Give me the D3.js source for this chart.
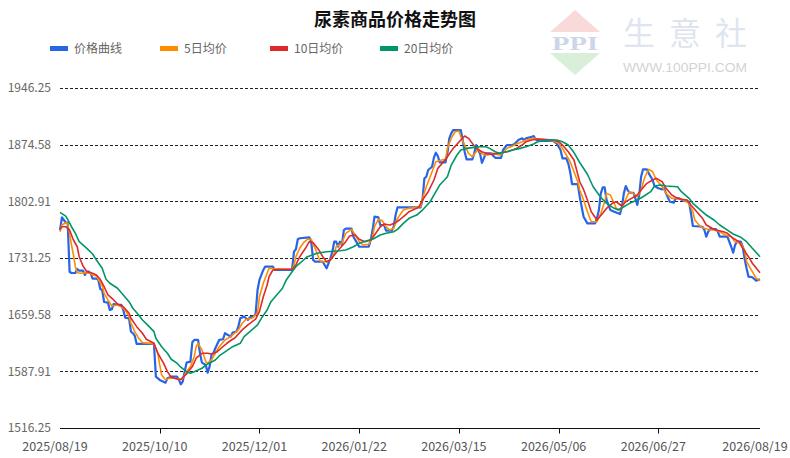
<!DOCTYPE html>
<html><head><meta charset="utf-8">
<script src="https://cdn.jsdelivr.net/npm/d3@7"></script>
<style>
body{margin:0;background:#fff;}
svg{display:block;font-family:"Noto Sans CJK SC","Noto Sans",sans-serif;}
</style>
</head><body>
<svg id="chart" width="790" height="458"></svg>
<script>
const chartTitle = "尿素商品价格走势图";
const startDate = "2025/08/19";
const endDate = "2026/08/19";
const xTickLabels = ["2025/08/19","2025/10/10","2025/12/01","2026/01/22","2026/03/15","2026/05/06","2026/06/27","2026/08/19"];
const yTickLabels = ["1516.25","1587.91","1659.58","1731.25","1802.91","1874.58","1946.25"];
const legendLabels = ["价格曲线","5日均价","10日均价","20日均价"];
const seriesColors = ["#2864e6","#ff8c00","#dd2a2a","#00966a"];

// [day offset from start, value]
const priceSeries = [[0,1766.6],[1,1782.7],[2,1779.3],[3,1775.9],[4,1775.9],[5,1713.9],[6,1712.3],[8,1712.3],[9,1717.4],[10,1715.2],[12,1715.2],[13,1709.8],[14,1713.9],[15,1713.9],[16,1711.9],[17,1705.1],[19,1705.1],[20,1703.5],[21,1692.1],[22,1690.8],[23,1675.6],[25,1674.8],[26,1665.5],[27,1666.4],[28,1673.1],[30,1671.9],[32,1671.9],[33,1665.5],[34,1655.8],[36,1655.0],[37,1638.1],[38,1636.1],[39,1632.7],[40,1622.6],[49,1622.6],[50,1581.2],[52,1577.1],[55,1573.6],[56,1579.2],[58,1581.2],[61,1581.2],[62,1577.1],[63,1571.6],[64,1574.9],[65,1587.5],[66,1598.9],[68,1600.2],[69,1624.7],[70,1627.6],[72,1627.6],[73,1610.8],[74,1598.9],[76,1596.0],[77,1586.3],[78,1593.9],[79,1608.7],[80,1610.8],[81,1617.1],[83,1627.6],[85,1628.5],[86,1636.1],[89,1631.8],[90,1636.8],[92,1638.1],[93,1644.4],[94,1655.0],[96,1657.1],[97,1655.0],[98,1652.9],[99,1656.3],[101,1657.1],[102,1660.5],[103,1690.8],[104,1703.5],[106,1716.1],[107,1720.3],[111,1720.3],[112,1716.1],[121,1716.1],[122,1739.2],[123,1742.3],[124,1754.9],[125,1756.2],[130,1757.4],[131,1751.9],[132,1728.7],[133,1726.6],[137,1726.6],[138,1722.4],[139,1718.2],[140,1724.6],[141,1730.9],[142,1739.2],[143,1751.9],[144,1751.9],[145,1745.5],[146,1751.9],[147,1747.7],[148,1766.6],[149,1768.3],[152,1768.3],[153,1758.2],[155,1749.8],[156,1745.5],[161,1745.5],[162,1754.0],[163,1766.6],[164,1783.5],[166,1782.7],[167,1773.0],[169,1773.0],[170,1765.8],[173,1765.8],[174,1770.8],[175,1785.6],[176,1795.3],[188,1795.3],[189,1804.6],[190,1832.0],[191,1834.0],[192,1842.5],[194,1846.7],[195,1858.5],[196,1864.4],[197,1860.2],[198,1852.2],[201,1852.2],[202,1863.6],[203,1882.6],[204,1888.9],[205,1893.0],[209,1893.0],[210,1880.4],[211,1865.6],[212,1856.0],[215,1856.0],[216,1863.6],[217,1874.1],[218,1867.8],[219,1863.6],[220,1851.7],[221,1857.3],[222,1863.6],[225,1863.6],[226,1860.2],[227,1858.0],[230,1858.0],[231,1867.8],[233,1874.1],[236,1874.1],[237,1875.4],[239,1880.4],[241,1882.6],[242,1880.4],[243,1882.6],[246,1884.6],[247,1885.5],[248,1881.3],[250,1879.5],[257,1879.5],[259,1876.2],[260,1871.9],[261,1867.8],[262,1857.3],[264,1857.3],[265,1851.0],[266,1840.3],[267,1824.8],[270,1824.8],[271,1808.7],[272,1796.1],[273,1783.5],[275,1775.1],[279,1775.1],[280,1781.4],[281,1791.9],[282,1813.0],[283,1820.6],[284,1820.6],[285,1804.6],[287,1791.9],[289,1789.8],[292,1786.9],[293,1796.1],[294,1813.0],[295,1822.3],[296,1817.2],[297,1813.8],[299,1813.8],[300,1806.7],[301,1798.3],[302,1810.9],[303,1834.0],[304,1843.4],[306,1843.4],[307,1838.3],[309,1829.9],[310,1822.3],[312,1819.4],[314,1818.1],[315,1819.4],[316,1813.0],[318,1802.4],[320,1801.2],[321,1806.7],[323,1806.7],[325,1803.7],[328,1802.4],[329,1787.8],[330,1771.7],[335,1770.8],[336,1766.6],[337,1758.2],[338,1764.5],[339,1767.9],[342,1767.9],[343,1764.5],[344,1758.2],[348,1758.2],[350,1745.5],[351,1738.0],[352,1747.7],[353,1751.9],[355,1751.9],[356,1745.5],[357,1730.0],[358,1718.2],[359,1707.6],[361,1706.9],[363,1702.6],[365,1704.3]];

const ma5Series = [[0,1764.5],[1,1773.0],[3,1775.9],[4,1775.1],[5,1762.5],[6,1747.7],[7,1735.1],[8,1720.3],[9,1712.7],[11,1711.9],[15,1712.7],[17,1709.8],[19,1708.5],[20,1704.3],[22,1695.9],[23,1686.6],[25,1678.2],[27,1670.6],[30,1671.9],[32,1669.7],[34,1665.5],[36,1657.1],[37,1648.7],[39,1638.1],[41,1629.8],[43,1624.2],[49,1622.6],[51,1610.8],[52,1596.0],[53,1583.4],[55,1577.1],[57,1579.2],[60,1579.2],[63,1577.1],[64,1579.2],[66,1587.5],[68,1593.9],[70,1606.5],[71,1619.1],[72,1623.4],[74,1615.0],[76,1600.2],[77,1598.2],[79,1602.3],[81,1610.8],[83,1619.1],[86,1627.6],[89,1631.8],[91,1636.1],[93,1640.3],[95,1648.7],[97,1653.8],[100,1655.0],[103,1661.4],[104,1682.3],[106,1699.3],[108,1711.9],[109,1718.2],[115,1717.0],[121,1717.0],[122,1722.4],[123,1732.9],[125,1743.5],[127,1750.6],[129,1754.9],[131,1754.9],[133,1743.5],[135,1730.9],[136,1726.6],[139,1726.6],[141,1728.7],[143,1737.2],[144,1745.5],[147,1749.8],[149,1762.5],[152,1767.5],[154,1760.3],[156,1751.9],[158,1747.7],[161,1748.6],[163,1758.2],[164,1770.8],[166,1780.2],[168,1778.4],[170,1770.8],[172,1766.6],[174,1768.8],[176,1781.4],[179,1791.9],[182,1794.1],[188,1796.1],[189,1806.7],[191,1821.4],[193,1834.0],[195,1846.7],[196,1853.0],[199,1855.1],[201,1856.0],[202,1869.9],[204,1882.6],[206,1890.9],[208,1891.8],[209,1884.6],[211,1874.1],[213,1863.6],[215,1859.3],[217,1865.6],[218,1869.9],[219,1865.6],[221,1861.5],[223,1861.5],[226,1863.6],[229,1861.5],[231,1863.6],[233,1869.9],[236,1872.8],[238,1875.4],[241,1878.3],[243,1880.4],[247,1882.6],[250,1881.3],[257,1879.5],[260,1876.2],[262,1869.9],[264,1861.5],[266,1853.0],[268,1840.3],[270,1827.7],[271,1817.2],[273,1804.6],[275,1790.0],[276,1783.5],[277,1777.1],[280,1777.1],[282,1787.8],[284,1802.4],[285,1813.0],[287,1810.9],[289,1800.4],[290,1794.1],[292,1791.9],[294,1800.4],[296,1810.9],[297,1815.1],[299,1813.0],[301,1808.7],[303,1817.2],[305,1834.0],[307,1843.4],[309,1840.3],[311,1829.9],[314,1821.4],[316,1813.0],[319,1806.7],[322,1806.7],[325,1804.6],[328,1800.4],[330,1789.8],[331,1779.3],[334,1770.8],[336,1768.8],[339,1766.6],[341,1766.6],[344,1764.5],[347,1760.3],[350,1758.2],[352,1751.9],[355,1749.8],[357,1741.4],[358,1726.6],[361,1713.9],[363,1705.6],[365,1702.6]];

const ma10Series = [[0,1767.5],[1,1770.8],[3,1770.8],[5,1766.6],[7,1754.0],[9,1745.5],[10,1732.9],[12,1721.1],[14,1713.9],[17,1711.9],[19,1709.8],[21,1704.3],[23,1695.0],[25,1684.5],[28,1678.2],[30,1673.1],[33,1669.7],[36,1661.4],[37,1655.0],[40,1644.4],[43,1636.1],[45,1628.5],[49,1623.4],[51,1610.8],[54,1598.2],[56,1587.5],[58,1580.5],[61,1578.3],[63,1577.9],[66,1584.6],[69,1593.9],[71,1604.5],[74,1610.8],[77,1610.8],[79,1609.9],[82,1612.8],[84,1617.1],[87,1623.4],[90,1628.5],[91,1629.8],[95,1640.3],[98,1646.6],[102,1654.0],[104,1663.4],[106,1682.3],[108,1697.1],[109,1707.6],[111,1716.1],[114,1717.0],[121,1717.0],[123,1722.4],[125,1732.9],[128,1743.5],[130,1751.9],[132,1750.6],[135,1741.4],[137,1732.9],[139,1726.6],[141,1728.7],[143,1735.1],[146,1743.5],[149,1751.9],[151,1759.1],[154,1760.3],[156,1754.9],[159,1751.9],[162,1754.0],[164,1760.3],[167,1770.8],[169,1774.2],[172,1773.0],[175,1775.9],[177,1779.3],[180,1785.6],[182,1789.8],[187,1795.3],[189,1804.6],[192,1815.1],[195,1829.9],[197,1844.6],[200,1853.0],[202,1859.3],[205,1869.9],[209,1880.4],[211,1885.5],[213,1882.6],[215,1876.2],[217,1869.9],[220,1865.6],[222,1863.6],[225,1862.3],[228,1863.6],[230,1864.4],[233,1865.6],[236,1867.8],[238,1869.9],[241,1874.1],[243,1878.3],[246,1880.4],[249,1881.7],[252,1881.3],[257,1880.4],[260,1878.3],[262,1874.1],[265,1865.6],[268,1855.1],[271,1827.7],[273,1818.0],[275,1804.6],[277,1789.8],[280,1779.3],[283,1787.8],[285,1794.1],[288,1800.4],[290,1802.4],[293,1797.0],[295,1802.4],[298,1806.7],[301,1810.9],[303,1817.2],[306,1825.7],[309,1829.9],[311,1832.0],[314,1827.7],[316,1819.4],[319,1810.9],[322,1806.7],[324,1805.5],[327,1804.6],[329,1798.3],[332,1789.8],[335,1781.4],[337,1773.0],[340,1768.8],[342,1766.6],[346,1764.5],[348,1762.5],[351,1756.2],[354,1751.9],[356,1743.5],[359,1732.9],[361,1724.6],[365,1712.7]];

const ma20Series = [[0,1789.0],[3,1784.3],[4,1780.2],[6,1770.8],[8,1762.5],[10,1751.9],[14,1743.5],[17,1736.3],[19,1728.7],[22,1718.2],[24,1704.3],[26,1699.3],[30,1693.0],[33,1684.5],[36,1676.0],[38,1667.7],[41,1659.2],[43,1652.9],[46,1645.7],[49,1638.1],[50,1629.8],[53,1619.1],[56,1610.8],[58,1603.2],[61,1598.2],[63,1593.1],[66,1587.5],[68,1585.5],[70,1587.5],[74,1591.8],[77,1597.3],[81,1602.3],[83,1607.4],[87,1614.1],[90,1619.1],[94,1623.4],[96,1631.8],[99,1638.1],[103,1646.6],[105,1655.0],[108,1665.5],[110,1676.0],[113,1684.5],[116,1693.0],[118,1703.5],[121,1713.9],[123,1720.3],[127,1728.7],[129,1732.9],[134,1737.2],[139,1739.2],[146,1740.5],[149,1741.4],[153,1745.5],[156,1749.8],[160,1753.1],[163,1754.9],[167,1760.3],[170,1762.5],[174,1764.5],[176,1767.5],[179,1775.1],[182,1781.4],[186,1785.6],[189,1791.9],[193,1802.4],[196,1815.1],[198,1823.5],[202,1834.0],[204,1848.8],[207,1861.5],[209,1867.8],[212,1869.9],[216,1871.2],[219,1871.9],[222,1871.9],[224,1869.9],[227,1865.6],[229,1863.6],[233,1865.6],[236,1867.8],[240,1869.9],[243,1871.9],[247,1875.4],[249,1878.3],[254,1880.4],[259,1880.4],[262,1878.3],[265,1874.1],[268,1864.6],[271,1852.0],[275,1837.2],[278,1821.4],[282,1807.7],[285,1800.4],[289,1794.1],[291,1791.9],[294,1796.1],[297,1800.4],[301,1804.6],[304,1808.7],[308,1815.1],[310,1822.3],[313,1823.5],[316,1822.3],[322,1821.4],[324,1815.1],[328,1806.7],[330,1800.4],[334,1791.9],[337,1785.6],[341,1779.3],[344,1773.0],[348,1766.6],[351,1761.6],[355,1757.4],[358,1751.9],[361,1743.5],[365,1732.9]];

const allSeries = [priceSeries, ma5Series, ma10Series, ma20Series];

const W = 790, H = 458;
const margin = {left: 60, right: 30, top: 88, bottom: 30};
const svg = d3.select("#chart");
const parse = d3.utcParse("%Y/%m/%d");
const t0 = parse(startDate), t1 = parse(endDate);

const x = d3.scaleUtc().domain([t0, t1]).range([margin.left, W - margin.right]);
const yVals = yTickLabels.map(Number);
const y = d3.scaleLinear().domain([yVals[0], yVals[yVals.length-1]]).range([H - margin.bottom, margin.top]);

// Watermark logo
const wm = svg.append("g");
wm.append("path").attr("d","M550,32 L575,10 L600,32 Z").attr("fill","#f8dada");
wm.append("path").attr("d","M550,53 L600,53 L575,75 Z").attr("fill","#d9efda");
wm.append("text").attr("x",575).attr("y",50).attr("text-anchor","middle")
  .attr("font-family","'Liberation Serif',serif").attr("font-weight","bold").attr("font-size",19)
  .attr("textLength",46).attr("lengthAdjust","spacingAndGlyphs").attr("fill","#cdd6e8").text("PPI");
wm.append("text").attr("x",623).attr("y",45).attr("font-size",32)
  .attr("textLength",124).attr("lengthAdjust","spacing").attr("fill","#dfe5ef").text("生意社");
wm.append("text").attr("x",623).attr("y",72).attr("font-family","'Liberation Sans',Arial,sans-serif").attr("font-size",13)
  .attr("textLength",124).attr("lengthAdjust","spacingAndGlyphs").attr("fill","#d3d3d3").text("WWW.100PPI.COM");

// Title
svg.append("text").attr("x",395).attr("y",26).attr("text-anchor","middle")
  .attr("font-size",18).attr("font-weight","bold").attr("fill","#111").text(chartTitle);

// Legend
const legendX = [50,160,270,380];
legendLabels.forEach((lab,i)=>{
  svg.append("rect").attr("x",legendX[i]).attr("y",46).attr("width",18).attr("height",5).attr("fill",seriesColors[i]);
  svg.append("text").attr("x",legendX[i]+24).attr("y",53).attr("font-size",12).attr("fill","#666").text(lab);
});

// Grid + y labels
yVals.forEach((v,i)=>{
  const yy = Math.round(y(v)) + 0.5;
  if (i > 0) {
    svg.append("line").attr("x1",margin.left).attr("x2",W-margin.right).attr("y1",yy).attr("y2",yy)
      .attr("stroke","#222").attr("stroke-width",1).attr("stroke-dasharray","3,2");
  }
  svg.append("text").attr("x",51).attr("y",y(v)).attr("dy","0.36em").attr("text-anchor","end")
    .attr("font-size",12).attr("fill","#666").text(yTickLabels[i]);
});

// X axis
const axisY = Math.round(y(yVals[0])) + 0.5;
svg.append("line").attr("x1",margin.left).attr("x2",W-margin.right).attr("y1",axisY).attr("y2",axisY)
  .attr("stroke","#111").attr("stroke-width",1.2);
const xTickDates = xTickLabels.map(parse);
xTickDates.forEach((d,i)=>{
  const xx = Math.round(x(d)) + 0.5;
  if (i > 0 && i < xTickDates.length-1) {
    svg.append("line").attr("x1",xx).attr("x2",xx).attr("y1",axisY).attr("y2",axisY+5).attr("stroke","#111");
  }
  svg.append("text").attr("x",x(d)-5).attr("y",451).attr("text-anchor","middle")
    .attr("font-size",12.5).attr("fill","#555").text(xTickLabels[i]);
});

// Lines
const line = d3.line().x(d=>x(d3.utcDay.offset(t0,d[0]))).y(d=>y(d[1]));
const widths = [2.2,1.6,1.6,1.6];
[0,1,2,3].forEach(i=>{
  svg.append("path").datum(allSeries[i]).attr("d",line).attr("fill","none")
    .attr("stroke",seriesColors[i]).attr("stroke-width",widths[i]).attr("stroke-linejoin","round");
});
</script>
</body></html>
